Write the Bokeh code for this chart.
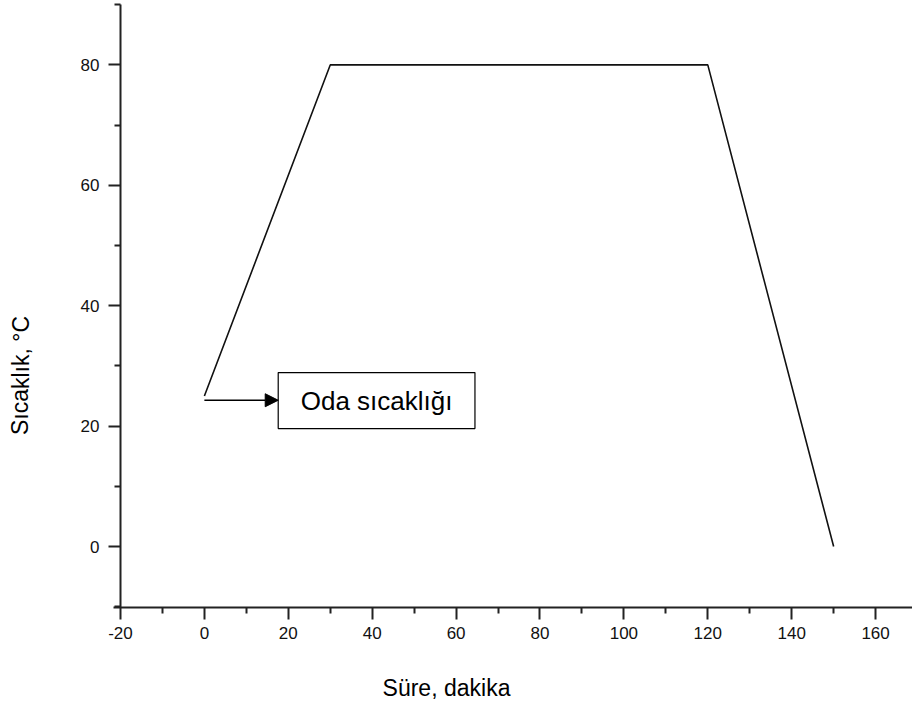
from bokeh.plotting import figure
from bokeh.models import (Range1d, LinearAxis, FixedTicker, Arrow, NormalHead,
                          Label, ColumnDataSource)
from bokeh.embed import file_html
from bokeh.resources import INLINE
from bokeh.core.properties import value

# ---- data ----
time_min = [0, 30, 120, 150]
temp_c = [25, 80, 80, 0]

x_ticks = [-20, 0, 20, 40, 60, 80, 100, 120, 140, 160]
x_tick_labels = ["-20", "0", "20", "40", "60", "80", "100", "120", "140", "160"]
y_ticks = [0, 20, 40, 60, 80]
y_tick_labels = ["0", "20", "40", "60", "80"]

x_label = "Süre, dakika"
y_label = "Sıcaklık, °C"

note_text = "Oda sıcaklığı"
arrow_from = (0, 24.3)
arrow_to = (17.6, 24.3)
note_box = dict(left=17.6, right=64.5, bottom=19.6, top=28.9)

# axis extents (data units)
x_axis_span = (-21.67, 168.8)
y_axis_span = (-10.13, 90)

FONT = "Liberation Sans"
AX = "#222222"

p = figure(width=912, height=704, output_backend="svg", toolbar_location=None,
           x_range=Range1d(-48.6, 168.8), y_range=Range1d(-26.24, 90.7),
           x_axis_location=None, y_axis_location=None,
           min_border=0)
p.outline_line_color = None
p.xgrid.visible = False
p.ygrid.visible = False
p.background_fill_color = "white"
p.border_fill_color = "white"

def style(ax):
    ax.axis_line_color = AX
    ax.axis_line_width = 2
    ax.major_tick_line_color = AX
    ax.major_tick_line_width = 2
    ax.minor_tick_line_color = AX
    ax.minor_tick_line_width = 2
    ax.major_tick_in = 0
    ax.major_tick_out = 12
    ax.minor_tick_in = 0
    ax.minor_tick_out = 6
    ax.major_label_text_font = FONT
    ax.major_label_text_font_size = "17px"
    ax.major_label_text_color = "#111111"
    ax.major_label_standoff = 7

xax = LinearAxis(ticker=FixedTicker(ticks=x_ticks,
                                    minor_ticks=[t + 10 for t in x_ticks]),
                 fixed_location=y_axis_span[0], bounds=x_axis_span)
xax.major_label_overrides = dict(zip(x_ticks, x_tick_labels))
style(xax)
p.add_layout(xax, "below")

yax = LinearAxis(ticker=FixedTicker(ticks=y_ticks,
                                    minor_ticks=[-10] + [t + 10 for t in y_ticks]),
                 fixed_location=-20, bounds=y_axis_span)
yax.major_label_overrides = dict(zip(y_ticks, y_tick_labels))
style(yax)
yax.major_label_standoff = 9
p.add_layout(yax, "left")

src = ColumnDataSource(dict(x=time_min, y=temp_c))
p.line("x", "y", source=src, line_color="#111111", line_width=1.6)

p.add_layout(Arrow(end=NormalHead(size=13, fill_color="black", line_color="black"),
                   x_start=arrow_from[0], y_start=arrow_from[1],
                   x_end=arrow_to[0], y_end=arrow_to[1],
                   line_color="black", line_width=1.6))

p.quad(left=[note_box["left"]], right=[note_box["right"]],
       bottom=[note_box["bottom"]], top=[note_box["top"]],
       fill_color="white", line_color="black", line_width=1.2)
p.text(x=[(note_box["left"] + note_box["right"]) / 2],
       y=[(note_box["bottom"] + note_box["top"]) / 2],
       text=[note_text], text_align="center", text_baseline="middle",
       text_font=value(FONT), text_font_size="26px", text_color="black")

p.add_layout(Label(x=446, y=704 - 687, x_units="screen", y_units="screen",
                   text=x_label, text_align="center", text_baseline="middle",
                   text_font=FONT, text_font_size="23px", text_color="black"))
p.add_layout(Label(x=20, y=704 - 375, x_units="screen", y_units="screen",
                   text=y_label, text_align="center", text_baseline="middle",
                   angle=1.5707963, text_font=FONT, text_font_size="23px",
                   text_color="black"))

open("out.html", "w").write(file_html(p, INLINE))
